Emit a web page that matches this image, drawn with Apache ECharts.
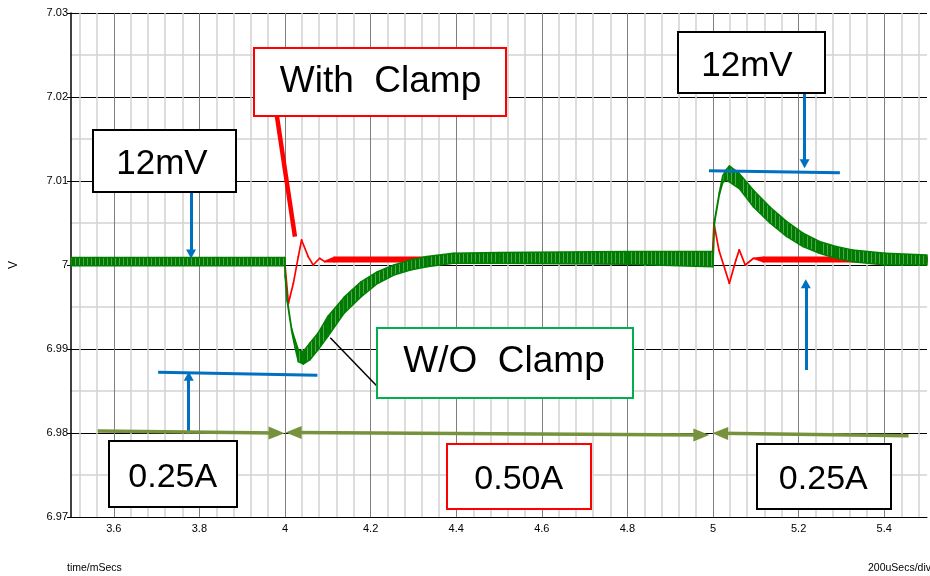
<!DOCTYPE html>
<html><head><meta charset="utf-8">
<script src="https://cdn.jsdelivr.net/npm/echarts@6/dist/echarts.min.js"></script>
<style>html,body{margin:0;padding:0;background:#fff}#c{width:930px;height:576px}</style>
</head><body><div id="c"></div>
<script>
// ---- tick labels ----
const xTickLabels = ['3.6','3.8','4','4.2','4.4','4.6','4.8','5','5.2','5.4'];
const yTickLabels = ['6.97','6.98','6.99','7','7.01','7.02','7.03'];

// ---- W/O Clamp trace (green): ripple envelope, time in ms, volts ----
const greenT  = [3.5, 3.9995, 4.0005, 4.005, 4.0156, 4.0233, 4.0311, 4.0427, 4.0579, 4.0773, 4.1004, 4.1388, 4.1775, 4.2161, 4.2545, 4.2931, 4.3317, 4.3932, 4.5, 4.8, 4.9995, 5.0005, 5.0035, 5.015, 5.0227, 5.0304, 5.0382, 5.0613, 5.0947, 5.1331, 5.1717, 5.2103, 5.2487, 5.2873, 5.3259, 5.4029, 5.5];
const greenHi = [7.0009, 7.0009, 6.9990, 6.9960, 6.9924, 6.9911, 6.9899, 6.9897, 6.9907, 6.9919, 6.9939, 6.9962, 6.9980, 6.9992, 7.0000, 7.0006, 7.0010, 7.0014, 7.0015, 7.0016, 7.0016, 7.0012, 7.0053, 7.0087, 7.0106, 7.0113, 7.0118, 7.0109, 7.0089, 7.0069, 7.0052, 7.0038, 7.0028, 7.0022, 7.0018, 7.0014, 7.0012];
const greenLo = [6.9999, 6.9999, 6.9985, 6.9957, 6.9921, 6.9902, 6.9885, 6.9882, 6.9887, 6.9899, 6.9915, 6.9943, 6.9962, 6.9978, 6.9988, 6.9994, 6.9998, 7.0002, 7.0002, 7.0001, 6.9998, 7.0006, 7.0050, 7.0084, 7.0098, 7.0101, 7.0099, 7.0091, 7.0069, 7.0050, 7.0034, 7.0022, 7.0014, 7.0008, 7.0004, 7.0000, 7.0000];

// ---- With Clamp trace (red) ----
const redT  = [3.5, 3.9988, 4.0, 4.008, 4.0195, 4.0311, 4.0387, 4.0542, 4.0658, 4.081, 4.0926, 4.115, 4.5, 4.9985, 5.0022, 5.0137, 5.0382, 5.0536, 5.0614, 5.0753, 5.0947, 5.1179, 5.5];
const redLo = [7.0003, 7.0003, 7.0000, 6.99544, 6.99782, 7.00099, 7.00298, 7.00099, 7.0000, 7.0008, 7.0004, 7.0004, 7.0004, 7.0003, 7.00496, 7.00179, 6.99782, 7.0006, 7.0018, 7.0000, 7.0008, 7.0004, 7.0004];
const redHi = [7.0008, 7.0008, 7.0000, 6.99544, 6.99782, 7.00099, 7.00298, 7.00099, 7.0000, 7.0008, 7.0004, 7.0009, 7.0009, 7.0008, 7.00496, 7.00179, 6.99782, 7.0006, 7.0018, 7.0000, 7.0008, 7.0009, 7.0009];

const SANS = "'Liberation Sans',Arial,sans-serif";
const RED = '#ff0000', GREEN = '#008000', BLUE = '#0070c0', OLIVE = '#76923c';

// split line colour patterns along 0.02 ms ticks starting at 3.5
const majorColors = [], minorColors = [];
for (let i = 0; i < 10; i++) {
  majorColors.push(i === 5 ? '#7f7f7f' : 'rgba(0,0,0,0)');
  minorColors.push(i % 2 === 1 && i !== 5 ? '#d2d2d2' : 'rgba(0,0,0,0)');
}

// vertical-stripe texture imitating the switching ripple teeth
const stripe = document.createElement('canvas');
stripe.width = 4; stripe.height = 2;
(function () {
  const g = stripe.getContext('2d');
  g.fillStyle = '#007a00'; g.fillRect(0, 0, 4, 2);
  g.fillStyle = '#4fa84f'; g.fillRect(3, 0, 1, 2);
})();

// band between low and high ripple envelopes, drawn through the axes
function bandSeries(name, t, lo, hi, color, fill, width, z) {
  const data = [];
  for (let i = 0; i < t.length - 1; i++) data.push([t[i], lo[i], hi[i], t[i + 1], lo[i + 1], hi[i + 1]]);
  return {
    name: name, type: 'custom', xAxisIndex: 1, z: z, silent: true, animation: false,
    data: data, encode: { x: [0, 3], y: [1, 2, 4, 5] },
    renderItem: function (params, api) {
      const a = api.coord([api.value(0), api.value(1)]);
      const b = api.coord([api.value(3), api.value(4)]);
      const c = api.coord([api.value(3), api.value(5)]);
      const d = api.coord([api.value(0), api.value(2)]);
      return { type: 'polygon', shape: { points: [a, b, c, d] },
        style: { fill: fill, stroke: color, lineWidth: width, lineJoin: 'round' } };
    }
  };
}

function seg(a, b, color, width, s1, s2, size) {
  return [
    { coord: a, symbol: s1 || 'none', symbolSize: size || 8, lineStyle: { color: color, width: width, type: 'solid' } },
    { coord: b, symbol: s2 || 'none', symbolSize: size || 8 }
  ];
}

const annotLines = [
  seg([3.981, 7.01777], [4.0232, 7.00337], RED, 4.5),
  seg([4.1058, 6.99135], [4.2175, 6.98544], '#000', 1.5),
  seg([3.7805, 7.0087], [3.7805, 7.0013], BLUE, 3, 'none', 'triangle', [10, 9]),
  seg([3.7035, 6.98723], [4.0757, 6.98687], BLUE, 3),
  seg([3.7751, 6.97987], [3.7751, 6.98676], BLUE, 3, 'none', 'triangle', [10, 9]),
  seg([5.214, 7.02051], [5.214, 7.01205], BLUE, 3, 'none', 'triangle', [10, 9]),
  seg([4.9906, 7.01123], [5.2965, 7.01099], BLUE, 3),
  seg([5.2168, 6.9875], [5.2168, 6.99776], BLUE, 3, 'none', 'triangle', [10, 9]),
  seg([3.5624, 6.98024], [3.9802, 6.97999], OLIVE, 3.5, 'none', 'triangle', [13, 16]),
  seg([4.0202, 6.98006], [4.9728, 6.97976], OLIVE, 3.5, 'triangle', 'triangle', [13, 16]),
  seg([5.0168, 6.97996], [5.4568, 6.97968], OLIVE, 3.5, 'triangle', 'none', [13, 16])
];

function box(x, y, w, h, stroke, text, tx, ty, fs) {
  return [
    { type: 'rect', shape: { x: x, y: y, width: w, height: h }, z: 100,
      style: { fill: '#fff', stroke: stroke, lineWidth: 2 } },
    { type: 'text', x: tx, y: ty, z: 101,
      style: { text: text, align: 'center', verticalAlign: 'middle', fontSize: fs, fontFamily: SANS, fill: '#000' } }
  ];
}

const chart = echarts.init(document.getElementById('c'), null, { renderer: 'canvas' });
chart.setOption({
  animation: false,
  backgroundColor: '#fff',
  grid: { left: 67, top: 13, width: 865, height: 504, containLabel: false },
  xAxis: [
    { type: 'value', position: 'top', min: 3.5, max: 5.5, interval: 0.02,
      axisLine: { show: false }, axisTick: { show: false }, axisLabel: { show: false },
      splitLine: { show: true, lineStyle: { color: minorColors, width: 1.5 } } },
    { type: 'value', position: 'bottom', min: 3.5, max: 5.5, interval: 0.02,
      axisLine: { show: true, onZero: false, lineStyle: { color: '#000', width: 1 } },
      axisTick: { show: false },
      axisLabel: { show: true, margin: 6, fontSize: 11, fontFamily: SANS, color: '#000',
        formatter: function (v) { const s = String(+v.toFixed(2)); return xTickLabels.indexOf(s) >= 0 ? s : ''; } },
      splitLine: { show: true, lineStyle: { color: majorColors, width: 1 } } }
  ],
  yAxis: {
    type: 'value', min: 6.97, max: 7.03, interval: 0.01,
    name: 'V', nameLocation: 'middle', nameGap: 51, nameRotate: 90,
    nameTextStyle: { fontSize: 12, fontFamily: SANS, color: '#000' },
    axisLine: { show: true, onZero: false, lineStyle: { color: '#000', width: 1.5 } },
    axisTick: { show: true, length: 4, lineStyle: { color: '#000' } },
    axisLabel: { margin: 3, fontSize: 11, fontFamily: SANS, color: '#000',
      formatter: function (v) { const s = String(+v.toFixed(2)); return yTickLabels.indexOf(s) >= 0 ? s : ''; } },
    splitLine: { show: true, lineStyle: { color: '#000', width: 1 } },
    minorTick: { show: false, splitNumber: 2 },
    minorSplitLine: { show: true, lineStyle: { color: '#d2d2d2', width: 1.5 } }
  },
  series: [
    bandSeries('With Clamp', redT, redLo, redHi, RED, RED, 1.7, 3),
    bandSeries('W/O Clamp', greenT, greenLo, greenHi, GREEN, { image: stripe, repeat: 'repeat' }, 1.5, 4),
    { name: 'annot', type: 'line', xAxisIndex: 1, data: [[3.5, 7.0]], symbol: 'none', z: 6,
      lineStyle: { opacity: 0 }, silent: true,
      markLine: { silent: true, animation: false, label: { show: false }, symbol: 'none',
        emphasis: { disabled: true }, data: annotLines } }
  ],
  graphic: [].concat(
    box(254, 48, 252, 68, RED, 'With  Clamp', 380.5, 82, 37),
    box(93, 130, 143, 62, '#000', '12mV', 162, 164, 35),
    box(377, 328, 256, 70, '#00b050', 'W/O  Clamp', 504, 361.5, 37),
    box(678, 32, 147, 61, '#000', '12mV', 747, 66.5, 35),
    box(109, 441, 128, 66, '#000', '0.25A', 172.7, 477.5, 34),
    box(447, 444, 144, 65, RED, '0.50A', 518.7, 479.5, 34),
    box(757, 444, 134, 65, '#000', '0.25A', 823.3, 480, 34),
    [
      { type: 'text', x: 67, y: 568, style: { text: 'time/mSecs', align: 'left', verticalAlign: 'middle', fontSize: 10.5, fontFamily: SANS, fill: '#000' } },
      { type: 'text', x: 931, y: 568, style: { text: '200uSecs/div', align: 'right', verticalAlign: 'middle', fontSize: 10.5, fontFamily: SANS, fill: '#000' } }
    ]
  )
});
</script>
</body></html>
